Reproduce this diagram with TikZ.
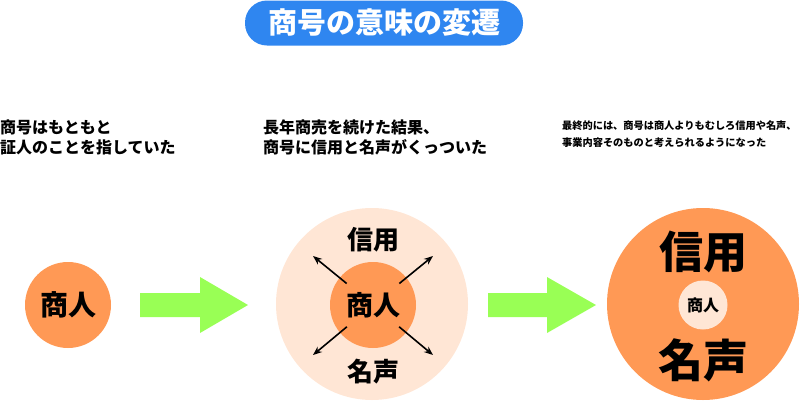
\documentclass[tikz,border=0pt]{standalone}
\usepackage{fontspec}
\setmainfont{Noto Sans CJK JP}
\usetikzlibrary{arrows.meta}
\definecolor{titleblue}{HTML}{2F86F0}
\definecolor{shoporange}{HTML}{FF9955}
\definecolor{peach}{HTML}{FFE6D5}
\definecolor{lime}{HTML}{99FF55}

\begin{document}
\begin{tikzpicture}[x=1pt,y=-1pt,font=\bfseries,>={Stealth[length=9pt,width=7pt]},
    caption/.style={anchor=north west,inner sep=0pt,align=left},
    spoke/.style={->,line width=1.6pt,shorten <=34pt}]
  \useasboundingbox (0,0) rectangle (800,402);

  \node[fill=titleblue,text=white,rounded corners=22pt,
        minimum width=278pt,minimum height=45pt,
        font=\bfseries\fontsize{29}{29}\selectfont] (title) at (384,23)
    {商号の意味の変遷};

  % captions
  \node[caption,font=\bfseries\fontsize{16}{20}\selectfont] (cap1) at (0,120)
    {商号はもともと\\証人のことを指していた};
  \node[caption,font=\bfseries\fontsize{16}{20}\selectfont] (cap2) at (263,120)
    {長年商売を続けた結果、\\商号に信用と名声がくっついた};
  \node[caption,font=\bfseries\fontsize{10.2}{17}\selectfont] (cap3) at (562,121)
    {最終的には、商号は商人よりもむしろ信用や名声、\\事業内容そのものと考えられるようになった};

  % before
  \node[circle,fill=shoporange,minimum size=86pt,inner sep=0pt,
        font=\bfseries\fontsize{28}{28}\selectfont] (left) at (68,305) {商人};

  \fill[lime] (140,293) -- (200,293) -- (200,277) -- (248,305)
    -- (200,333) -- (200,317) -- (140,317) -- cycle;

  % middle
  \node[circle,fill=peach,minimum size=192pt] (halo) at (372,304) {};
  \node[circle,fill=shoporange,minimum size=86pt,inner sep=0pt,
        font=\bfseries\fontsize{27}{27}\selectfont] (mid) at (373,305) {商人};
  \node[font=\bfseries\fontsize{26}{26}\selectfont] (trust) at (373,240) {信用};
  \node[font=\bfseries\fontsize{26}{26}\selectfont] (fame) at (373,372) {名声};
  \coordinate (nw) at (313,256);
  \coordinate (ne) at (433,256);
  \coordinate (sw) at (313,355);
  \coordinate (se) at (433,355);
  \draw[spoke] (mid.center) -- (nw);
  \draw[spoke] (mid.center) -- (ne);
  \draw[spoke] (mid.center) -- (sw);
  \draw[spoke] (mid.center) -- (se);

  \fill[lime] (488,293) -- (547,293) -- (547,277) -- (596,305)
    -- (547,333) -- (547,317) -- (488,317) -- cycle;

  % after
  \node[circle,fill=shoporange,minimum size=192pt] (big) at (703,304) {};
  \node[circle,fill=peach,minimum size=49pt,inner sep=0pt,
        font=\bfseries\fontsize{16}{16}\selectfont] (core) at (703,305) {商人};
  \node[font=\bfseries\fontsize{44}{44}\selectfont] (trust2) at (703,252) {信用};
  \node[font=\bfseries\fontsize{45}{45}\selectfont] (fame2) at (703,360) {名声};
\end{tikzpicture}
\end{document}
